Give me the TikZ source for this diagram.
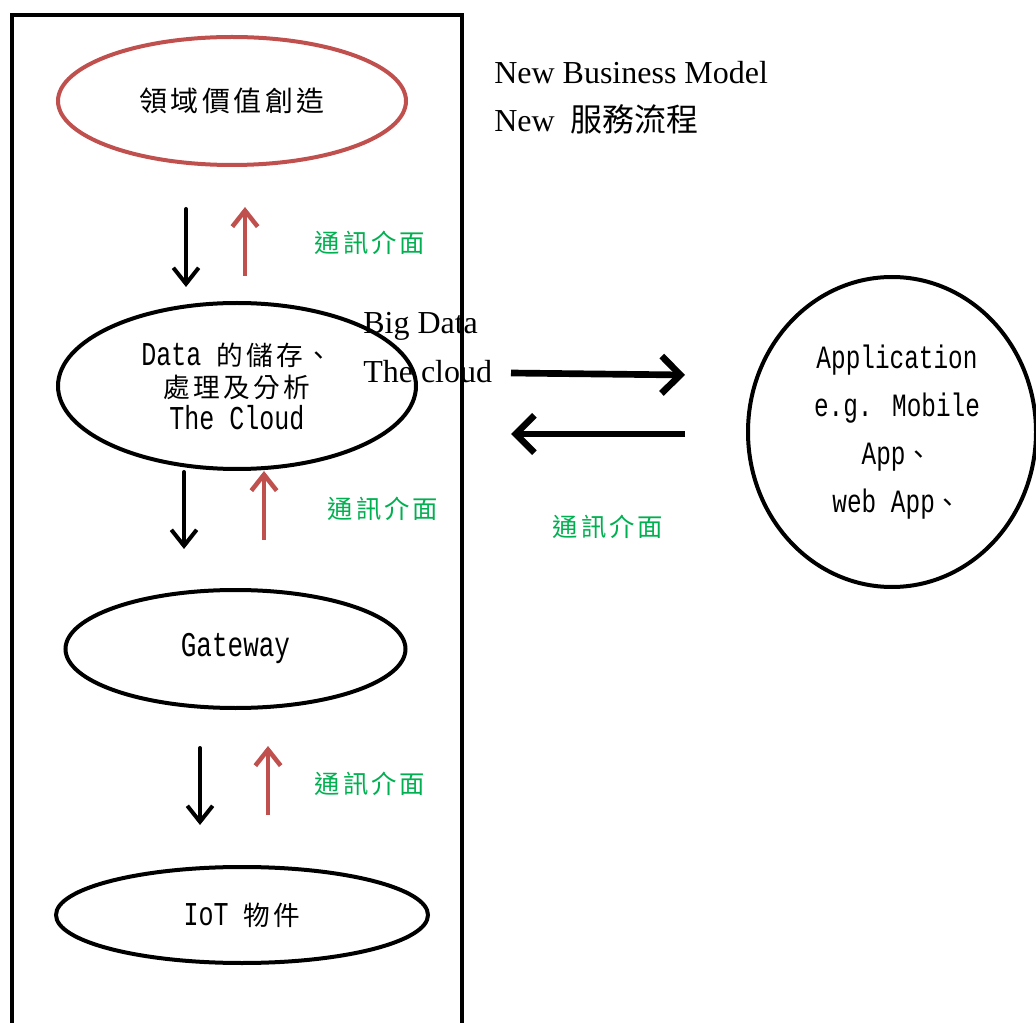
\documentclass[tikz,border=0pt]{standalone}
\usepackage{fontspec}
\setmainfont{Liberation Serif}
\newfontfamily\cjk{Noto Sans CJK TC}
\newfontfamily\cjks[LetterSpace=12]{Noto Sans CJK TC}
\newfontfamily\mnf[FakeStretch=0.75]{Liberation Mono}
\usetikzlibrary{shapes.geometric,arrows.meta}
\definecolor{redc}{HTML}{C0504D}
\definecolor{greenc}{HTML}{00B050}
\begin{document}
\begin{tikzpicture}[x=0.75pt,y=-0.75pt,
  oval/.style={ellipse, draw, line width=3pt, inner sep=0pt, align=center},
  lab/.style={font=\cjks\fontsize{19}{22}\selectfont, text=greenc},
  downarr/.style={line width=3pt, line cap=round, -{Straight Barb[length=12pt,width=19pt]}},
  uparr/.style={draw=redc, line width=3.4pt, -{Straight Barb[length=12pt,width=19pt]}},
  harr/.style={line width=5pt, -{Straight Barb[length=14pt,width=28pt]}},
  serift/.style={font=\fontsize{24}{28}\selectfont, anchor=west, inner sep=0pt}]
\useasboundingbox (0,0) rectangle (1036,1023);
\clip (0,0) rectangle (1036,1023);
% frame
\draw[line width=3pt] (12,1040) -- (12,15) -- (462,15) -- (462,1040);
% ellipses
\node[oval, draw=redc, minimum width=261pt, minimum height=96pt,
  font=\cjks\fontsize{21}{24}\selectfont] (e1) at (232,101) {領域價值創造};
\node[oval, minimum width=268.5pt, minimum height=124.5pt,
  font=\fontsize{20}{24}\selectfont] (e2) at (237,386)
  {{\mnf\fontsize{25}{24}\selectfont Data }{\cjks 的儲存、}\\{\cjks 處理及分析}\\{\mnf\fontsize{25}{24}\selectfont The Cloud}};
\node[oval, minimum width=255pt, minimum height=88.5pt,
  font=\mnf\fontsize{26}{23}\selectfont] (e3) at (235.5,649) {Gateway};
\node[oval, minimum width=279pt, minimum height=72pt,
  font=\fontsize{20}{23}\selectfont] (e4) at (242,915) {{\mnf\fontsize{25}{23}\selectfont IoT }{\cjks 物件}};
\node[ellipse, draw, line width=3pt, inner sep=0pt, minimum width=216pt, minimum height=232.5pt] (app) at (892,432) {};
\node[align=center, font=\mnf\fontsize{24.4}{36}\selectfont, inner sep=0pt] (apptext) at (897,432)
  {Application\\e.g. Mobile\\App{\cjk\fontsize{20}{36}\selectfont 、}\\web App{\cjk\fontsize{20}{36}\selectfont 、}};
% top texts
\node[serift] (nbm) at (494,73) {New Business Model};
\node[serift] (nsv) at (494,119) {New\ \ {\cjk 服務流程}};
\node[serift] (bd) at (363,326) {Big Data};
\node[serift] (tc) at (363,372) {The cloud};
% arrow coordinates
\coordinate (a1s) at (186,209); \coordinate (a1e) at (186,287);
\coordinate (r1s) at (245,276); \coordinate (r1e) at (245,207);
\coordinate (a2s) at (184,472); \coordinate (a2e) at (184,549);
\coordinate (r2s) at (264,540); \coordinate (r2e) at (264,471);
\coordinate (a3s) at (200,748); \coordinate (a3e) at (200,825);
\coordinate (r3s) at (268,815); \coordinate (r3e) at (268,746);
\coordinate (h1s) at (511,373); \coordinate (h1e) at (685,375);
\coordinate (h2s) at (685,434); \coordinate (h2e) at (511,434);
\draw[downarr] (a1s) -- (a1e);
\draw[uparr] (r1s) -- (r1e);
\draw[downarr] (a2s) -- (a2e);
\draw[uparr] (r2s) -- (r2e);
\draw[downarr] (a3s) -- (a3e);
\draw[uparr] (r3s) -- (r3e);
\draw[harr] (h1s) -- (h1e);
\draw[harr] (h2s) -- (h2e);
% labels
\node[lab] (l1) at (370,243) {通訊介面};
\node[lab] (l2) at (383,509) {通訊介面};
\node[lab] (l3) at (370,784) {通訊介面};
\node[lab] (l4) at (608,527) {通訊介面};
\end{tikzpicture}
\end{document}
